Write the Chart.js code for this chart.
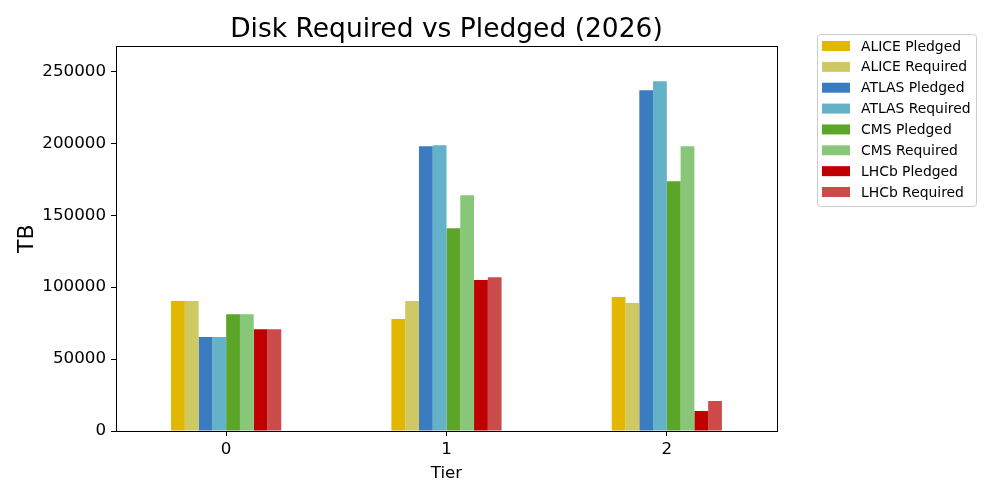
<!DOCTYPE html>
<html lang="en">
  <head>
    <meta charset="UTF-8" />
    <title>Disk Required vs Pledged (2026)</title>
    <script src="https://cdn.jsdelivr.net/npm/chart.js@4.4.1/dist/chart.umd.min.js"></script>
    <style>
      body { margin: 0; background: #fff; }
      #wrap { width: 1000px; height: 500px; }
    </style>
  </head>

  <body>
    <div id="wrap">
      <canvas id="myChart"></canvas>
    </div>

    <script>
      // values (TB)
      const tiers = ["0", "1", "2"];
      const yTicks = [0, 50000, 100000, 150000, 200000, 250000];
      const alicePledged = [90300, 77800, 93100];
      const aliceRequired = [90300, 90300, 88900];
      const atlasPledged = [65300, 197900, 236800];
      const atlasRequired = [65300, 198600, 243100];
      const cmsPledged = [81200, 141000, 173600];
      const cmsRequired = [81200, 163900, 197900];
      const lhcbPledged = [70800, 104900, 13900];
      const lhcbRequired = [70800, 106900, 20800];

      const seriesNames = [
        "ALICE Pledged", "ALICE Required", "ATLAS Pledged", "ATLAS Required",
        "CMS Pledged", "CMS Required", "LHCb Pledged", "LHCb Required",
      ];
      const seriesValues = [
        alicePledged, aliceRequired, atlasPledged, atlasRequired,
        cmsPledged, cmsRequired, lhcbPledged, lhcbRequired,
      ];
      const colors = [
        "#e2b700", "#cfc964", "#3b7cc1", "#63b2c8",
        "#5ba528", "#88c77a", "#c00000", "#cb4a4a",
      ];

      const font = "'DejaVu Sans', sans-serif";
      Chart.defaults.font.family = font;
      Chart.defaults.color = "#000";

      const datasets = seriesNames.map((name, i) => ({
        label: name,
        data: seriesValues[i],
        backgroundColor: colors[i],
        borderWidth: 0,
      }));

      // box around the plot + legend in the matplotlib style
      const frame = {
        id: "frame",
        afterDraw(chart) {
          const c = chart.ctx;
          const a = chart.chartArea;
          c.save();
          c.strokeStyle = "#000";
          c.lineWidth = 1;
          c.strokeRect(Math.round(a.left) + 0.5, Math.round(a.top) + 0.5,
            Math.round(a.right - a.left), Math.round(a.bottom - a.top));

          // legend
          const lx = 817, ly = 34, lw = 159, lh = 172;
          c.beginPath();
          c.roundRect(lx + 0.5, ly + 0.5, lw, lh, 3);
          c.fillStyle = "rgba(255,255,255,0.8)";
          c.fill();
          c.strokeStyle = "#cccccc";
          c.stroke();
          c.font = "13.9px " + font;
          c.textBaseline = "middle";
          chart.data.datasets.forEach((ds, i) => {
            const y = 46 + i * 20.86;
            c.fillStyle = ds.backgroundColor;
            c.fillRect(822, y - 5, 28, 10);
            c.fillStyle = "#000";
            c.fillText(ds.label, 861, y + 1);
          });
          c.restore();
        },
      };

      const ctx = document.getElementById("myChart");
      const myChart = new Chart(ctx, {
        type: "bar",
        data: { labels: tiers, datasets: datasets },
        options: {
          responsive: true,
          maintainAspectRatio: false,
          animation: false,
          layout: { padding: { left: 0, right: 223, top: 0, bottom: 0 } },
          datasets: { bar: { categoryPercentage: 0.5, barPercentage: 1.0 } },
          plugins: {
            legend: { display: false },
            tooltip: { enabled: false },
            title: {
              display: true,
              text: "Disk Required vs Pledged (2026)",
              fullSize: false,
              font: { size: 26.5, weight: "normal" },
              padding: { top: 14.5, bottom: 0 },
            },
          },
          scales: {
            x: {
              offset: true,
              grid: { display: true, drawOnChartArea: false, offset: false, tickLength: 5, color: "#000" },
              border: { display: false },
              ticks: { font: { size: 16.7 }, padding: 4, maxRotation: 0 },
              title: { display: true, text: "Tier", font: { size: 16.7 }, padding: { top: 0, bottom: 16 } },
              afterFit: (s) => { s.height = 69; },
            },
            y: {
              min: 0,
              max: 267400,
              grid: { display: true, drawOnChartArea: false, tickLength: 5, color: "#000" },
              border: { display: false },
              ticks: { font: { size: 16.7 }, padding: 5, callback: (v) => String(v) },
              afterBuildTicks: (s) => { s.ticks = yTicks.map((v) => ({ value: v })); },
              title: { display: true, text: "TB", font: { size: 22 }, padding: { top: 14, bottom: 0 } },
              afterFit: (s) => { s.width = 116; },
            },
          },
        },
        plugins: [frame],
      });
    </script>
  </body>
</html>
